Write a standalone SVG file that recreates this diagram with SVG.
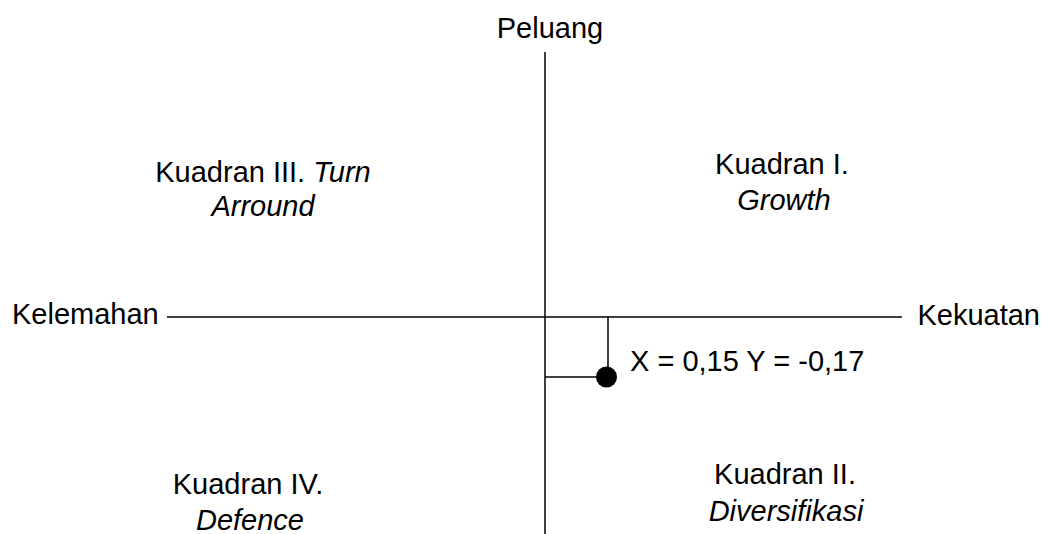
<svg xmlns="http://www.w3.org/2000/svg" width="1043" height="534" viewBox="0 0 1043 534">
<style>
.t{font-family:"Liberation Sans",Arial,sans-serif;font-size:29px;fill:#000}
.i{font-style:italic}
.ln{stroke:#000;stroke-width:1.5;fill:none}
</style>
<rect width="1043" height="534" fill="#fff"/>
<g id="connectors">
<line class="ln" x1="545" y1="52" x2="545" y2="534"/>
<line class="ln" x1="167" y1="317" x2="902" y2="317"/>
<line class="ln" x1="608" y1="317" x2="608" y2="377"/>
<line class="ln" x1="545" y1="377" x2="606" y2="377"/>
</g>
<g id="point">
<circle cx="606.5" cy="377" r="10.5" fill="#000"/>
<text class="t" x="630" y="371">X = 0,15 Y = -0,17</text>
</g>
<g id="peluang"><text class="t" x="550" y="38" text-anchor="middle">Peluang</text></g>
<g id="kelemahan"><text class="t" x="12" y="324">Kelemahan</text></g>
<g id="kekuatan"><text class="t" x="1040" y="325" text-anchor="end">Kekuatan</text></g>
<g id="q3"><text class="t" x="263" y="182" text-anchor="middle">Kuadran III. <tspan class="i">Turn</tspan></text><text class="t i" x="263" y="216" text-anchor="middle">Arround</text></g>
<g id="q1"><text class="t" x="782" y="174" text-anchor="middle">Kuadran I.</text><text class="t i" x="784" y="210" text-anchor="middle">Growth</text></g>
<g id="q4"><text class="t" x="248" y="494" text-anchor="middle">Kuadran IV.</text><text class="t i" x="250" y="530" text-anchor="middle">Defence</text></g>
<g id="q2"><text class="t" x="785" y="484" text-anchor="middle">Kuadran II.</text><text class="t i" x="786" y="521" text-anchor="middle">Diversifikasi</text></g>
</svg>
